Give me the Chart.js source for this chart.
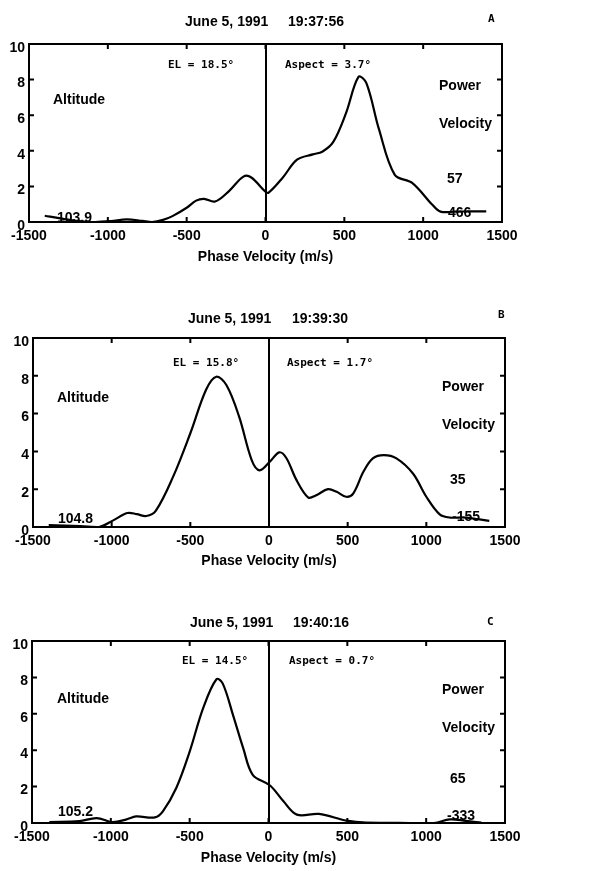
<!DOCTYPE html>
<html lang="en">
<head>
<meta charset="UTF-8">
<title>Phase Velocity Spectra - June 5, 1991</title>
<script src="https://cdn.jsdelivr.net/npm/chart.js"></script>
<style>
  body { margin: 0; background: #fff; }
  .wrap { position: relative; width: 613px; height: 871px; }
  canvas { position: absolute; left: 0; }
</style>
</head>
<body>
<div class="wrap">
  <canvas id="chartA" width="613" height="268" style="top:0px"></canvas>
  <canvas id="chartB" width="613" height="282" style="top:290px"></canvas>
  <canvas id="chartC" width="613" height="279" style="top:590px"></canvas>
</div>
<script>
// axis ticks
const xTicks = [-1500, -1000, -500, 0, 500, 1000, 1500];
const yTicks = [0, 2, 4, 6, 8, 10];

// panel A  19:37:56
const velA = [-1400, -1300, -1200, -1080, -980, -880, -780, -720, -650, -590, -500, -440, -390, -320, -230, -140, -90, 0, 20, 110, 200, 300, 360, 430, 510, 590, 640, 720, 820, 930, 1060, 1110, 1200, 1300, 1400];
const powA = [0.35, 0.2, 0.07, 0.0, 0.05, 0.15, 0.06, 0.0, 0.12, 0.33, 0.8, 1.2, 1.3, 1.15, 1.75, 2.55, 2.5, 1.7, 1.65, 2.5, 3.5, 3.8, 3.95, 4.5, 6.1, 8.15, 7.8, 5.2, 2.65, 2.2, 0.95, 0.58, 0.58, 0.6, 0.6];

// panel B  19:39:30
const velB = [-1400, -1200, -1080, -990, -900, -840, -780, -720, -610, -500, -400, -335, -270, -190, -110, -60, 5, 65, 110, 175, 250, 300, 375, 430, 490, 535, 600, 660, 730, 810, 915, 1000, 1085, 1150, 1250, 1400];
const powB = [0.1, 0.05, 0.0, 0.35, 0.74, 0.68, 0.58, 0.85, 2.65, 4.96, 7.26, 7.95, 7.5, 5.84, 3.54, 3.0, 3.45, 3.95, 3.65, 2.48, 1.56, 1.68, 2.0, 1.86, 1.6, 1.77, 2.92, 3.63, 3.8, 3.63, 2.83, 1.6, 0.67, 0.5, 0.5, 0.32];

// panel C  19:40:16
const velC = [-1390, -1200, -1090, -990, -900, -840, -720, -670, -585, -500, -415, -330, -290, -225, -160, -100, 10, 95, 180, 320, 495, 620, 900, 1050, 1150, 1250, 1350];
const powC = [0.05, 0.1, 0.27, 0.05, 0.2, 0.36, 0.31, 0.64, 1.92, 3.92, 6.3, 7.9, 7.66, 5.93, 4.1, 2.65, 2.06, 1.19, 0.46, 0.5, 0.13, 0.02, 0.0, 0.0, 0.2, 0.12, 0.02];

const LABEL = 'bold 14px "Liberation Sans", Arial, sans-serif';
const MONO = 'bold 11px "DejaVu Sans Mono", monospace';

const panels = [
  {
    id: 'chartA', top: 0, height: 268,
    box: { left: 29, right: 502, top: 44, bottom: 222 },
    vel: velA, pow: powA,
    texts: [
      ['June 5, 1991', 185, 22, LABEL], ['19:37:56', 288, 22, LABEL], ['A', 488, 19, MONO],
      ['EL = 18.5°', 168, 65, MONO], ['Aspect = 3.7°', 285, 65, MONO],
      ['Altitude', 53, 100, LABEL], ['Power', 439, 86, LABEL], ['Velocity', 439, 124, LABEL],
      ['57', 447, 179, LABEL], ['466', 448, 213, LABEL], ['103.9', 57, 218, LABEL]
    ]
  },
  {
    id: 'chartB', top: 290, height: 282,
    box: { left: 33, right: 505, top: 338, bottom: 527 },
    vel: velB, pow: powB,
    texts: [
      ['June 5, 1991', 188, 29, LABEL], ['19:39:30', 292, 29, LABEL], ['B', 498, 25, MONO],
      ['EL = 15.8°', 173, 73, MONO], ['Aspect = 1.7°', 287, 73, MONO],
      ['Altitude', 57, 108, LABEL], ['Power', 442, 97, LABEL], ['Velocity', 442, 135, LABEL],
      ['35', 450, 190, LABEL], ['-155', 452, 227, LABEL], ['104.8', 58, 229, LABEL]
    ]
  },
  {
    id: 'chartC', top: 590, height: 279,
    box: { left: 32, right: 505, top: 641, bottom: 823 },
    vel: velC, pow: powC,
    texts: [
      ['June 5, 1991', 190, 33, LABEL], ['19:40:16', 293, 33, LABEL], ['C', 487, 32, MONO],
      ['EL = 14.5°', 182, 71, MONO], ['Aspect = 0.7°', 289, 71, MONO],
      ['Altitude', 57, 109, LABEL], ['Power', 442, 100, LABEL], ['Velocity', 442, 138, LABEL],
      ['65', 450, 189, LABEL], ['-333', 447, 226, LABEL], ['105.2', 58, 222, LABEL]
    ]
  }
];

// frame, inward tick marks and the panel annotations
const panelText = {
  id: 'panelText',
  afterDraw(chart, args, opts) {
    const ctx = chart.ctx;
    const { left, right, top, bottom } = chart.chartArea;
    const xs = chart.scales.x, ys = chart.scales.y;
    ctx.save();
    ctx.strokeStyle = '#000';
    ctx.lineWidth = 2;
    ctx.strokeRect(left, top, right - left, bottom - top);
    ctx.beginPath();
    xs.ticks.forEach(t => {
      const px = xs.getPixelForValue(t.value);
      ctx.moveTo(px, top); ctx.lineTo(px, top + 5);
      ctx.moveTo(px, bottom); ctx.lineTo(px, bottom - 5);
    });
    ys.ticks.forEach(t => {
      const py = ys.getPixelForValue(t.value);
      ctx.moveTo(left, py); ctx.lineTo(left + 5, py);
      ctx.moveTo(right, py); ctx.lineTo(right - 5, py);
    });
    ctx.stroke();
    ctx.fillStyle = '#000';
    ctx.textAlign = 'left';
    ctx.textBaseline = 'middle';
    opts.texts.forEach(([txt, x, y, font]) => {
      ctx.font = font;
      ctx.fillText(txt, x, y);
    });
    ctx.restore();
  }
};

Chart.defaults.color = '#000';
Chart.defaults.font.family = '"Liberation Sans", Arial, sans-serif';

panels.forEach(p => {
  const ctx = document.getElementById(p.id).getContext('2d');
  const points = p.vel.map((v, i) => ({ x: v, y: p.pow[i] }));
  const xHeight = p.height - (p.box.bottom - p.top);

  new Chart(ctx, {
    type: 'line',
    data: {
      datasets: [{
        data: points,
        borderColor: '#000',
        borderWidth: 2.2,
        pointRadius: 0,
        fill: false,
        tension: 0.35
      }]
    },
    options: {
      responsive: false,
      animation: false,
      layout: {
        padding: { top: p.box.top - p.top, right: 613 - p.box.right, left: 0, bottom: 0 }
      },
      plugins: {
        legend: { display: false },
        tooltip: { enabled: false },
        panelText: { texts: p.texts }
      },
      scales: {
        x: {
          type: 'linear',
          min: xTicks[0],
          max: xTicks[xTicks.length - 1],
          afterBuildTicks: s => { s.ticks = xTicks.map(v => ({ value: v })); },
          afterFit: s => { s.height = xHeight; },
          border: { display: false },
          grid: {
            drawTicks: false,
            lineWidth: 2,
            color: c => (c.tick && c.tick.value === 0 ? '#000' : 'rgba(0,0,0,0)')
          },
          ticks: {
            padding: 6,
            font: { size: 14, weight: 'bold' },
            maxRotation: 0,
            callback: v => String(v)
          },
          title: {
            display: true,
            text: 'Phase Velocity (m/s)',
            font: { size: 14, weight: 'bold' },
            padding: { top: 0, bottom: 2 }
          }
        },
        y: {
          min: yTicks[0],
          max: yTicks[yTicks.length - 1],
          afterBuildTicks: s => { s.ticks = yTicks.map(v => ({ value: v })); },
          afterFit: s => { s.width = p.box.left; },
          border: { display: false },
          grid: { display: false, drawTicks: false },
          ticks: { padding: 4, labelOffset: 4, font: { size: 14, weight: 'bold' } }
        }
      }
    },
    plugins: [panelText]
  });
});
</script>
</body>
</html>
